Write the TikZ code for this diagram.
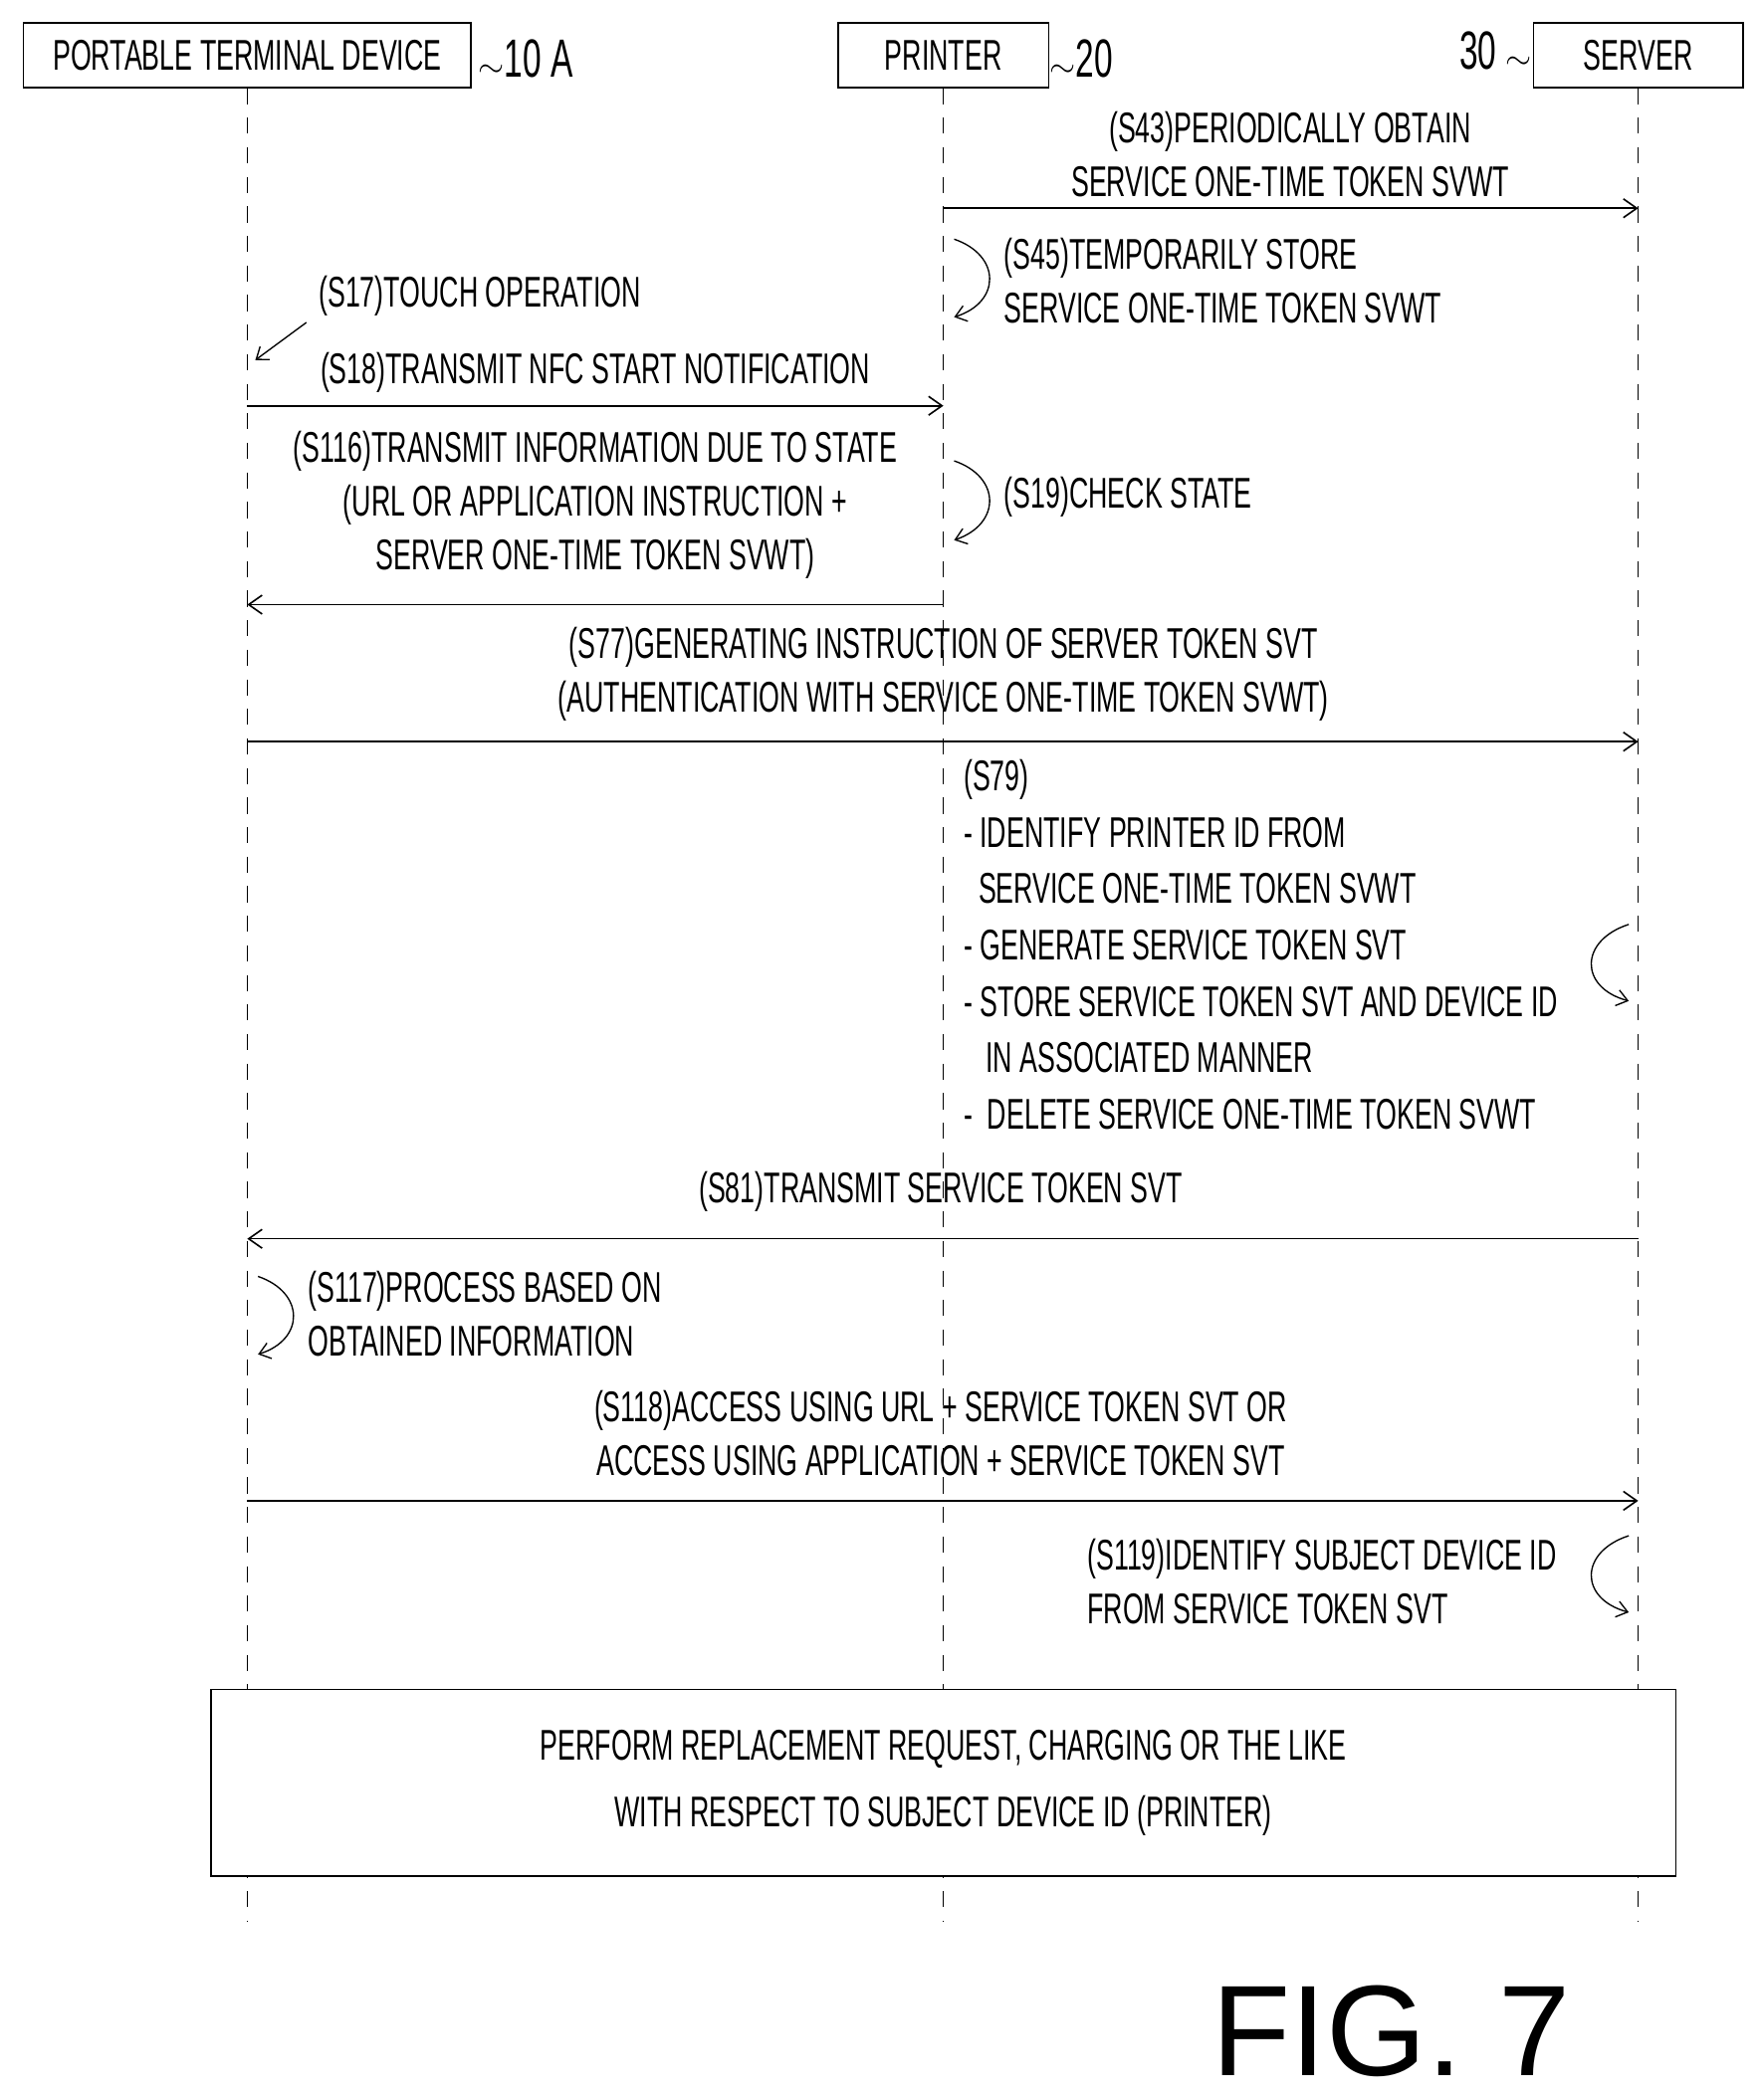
\documentclass[tikz,border=0pt]{standalone}
\usetikzlibrary{arrows.meta}
\usepackage{fontspec}
\setmainfont{Liberation Sans}[FakeStretch=0.62]
\begin{document}
\begin{tikzpicture}[x=1pt,y=-1pt,
 t/.style={font=\fontsize{32}{36}\selectfont,inner sep=1pt},
 hd/.style={draw,line width=1.2pt,minimum height=48pt,font=\fontsize{32}{36}\selectfont},
 life/.style={dashed,line width=1pt,dash pattern=on 12pt off 10pt},
 msg/.style={line width=1.2pt,-{Straight Barb[length=10pt,width=14pt]}},
 loop/.style={line width=1pt,-{Straight Barb[length=8pt,width=12pt]}}]
\useasboundingbox (0,0) rectangle (1310,1563);
\node[hd,minimum width=333pt] (A) at (184,41) {PORTABLE TERMINAL DEVICE};
\node[hd,minimum width=157pt] (B) at (702,41) {PRINTER};
\node[hd,minimum width=156pt] (C) at (1219,41) {SERVER};
\node[t,font=\fontsize{40}{44}\selectfont,anchor=west] (la) at (355,44) {$\sim$10 A};
\node[t,font=\fontsize{40}{44}\selectfont,anchor=west] (lb) at (780,44) {$\sim$20};
\node[t,font=\fontsize{40}{44}\selectfont,anchor=east] (lc) at (1141,38) {30 $\sim$};
\coordinate (Ae) at (184,1430); \coordinate (Be) at (702,1430); \coordinate (Ce) at (1219,1430);
\draw[life] (A.south) -- (Ae); \draw[life] (B.south) -- (Be); \draw[life] (C.south) -- (Ce);
% S43
\node[t,align=center] (s43) at (960,115) {(S43)PERIODICALLY OBTAIN\\[4pt]SERVICE ONE-TIME TOKEN SVWT};
\coordinate (p1) at (702,155); \coordinate (c1) at (1219,155);
\draw[msg] (p1) -- (c1);
% S45
\node[t,align=left,anchor=west] (s45) at (746,209) {(S45)TEMPORARILY STORE\\[4pt]SERVICE ONE-TIME TOKEN SVWT};
\coordinate (l1a) at (710,178); \coordinate (l1b) at (710,236);
\draw[loop] (l1a) .. controls (745,190) and (745,225) .. (l1b);
% S17
\node[t,anchor=west] (s17) at (236,220) {(S17)TOUCH OPERATION};
\coordinate (t1) at (228,240); \coordinate (t2) at (190,268);
\draw[loop] (t1) -- (t2);
% S18
\node[t] (s18) at (443,277) {(S18)TRANSMIT NFC START NOTIFICATION};
\coordinate (a2) at (184,302); \coordinate (b2) at (702,302);
\draw[msg] (a2) -- (b2);
% S116
\node[t,align=center] (s116) at (443,376) {(S116)TRANSMIT INFORMATION DUE TO STATE\\[4pt](URL OR APPLICATION INSTRUCTION +\\[4pt]SERVER ONE-TIME TOKEN SVWT)};
\coordinate (b3) at (702,450); \coordinate (a3) at (184,450);
\draw[msg] (b3) -- (a3);
% S19
\node[t,anchor=west] (s19) at (746,370) {(S19)CHECK STATE};
\coordinate (l2a) at (710,343); \coordinate (l2b) at (710,402);
\draw[loop] (l2a) .. controls (745,355) and (745,390) .. (l2b);
% S77
\node[t,align=center] (s77) at (702,502) {(S77)GENERATING INSTRUCTION OF SERVER TOKEN SVT\\[4pt](AUTHENTICATION WITH SERVICE ONE-TIME TOKEN SVWT)};
\coordinate (a4) at (184,552); \coordinate (c4) at (1219,552);
\draw[msg] (a4) -- (c4);
% S79
\node[t,align=left,anchor=north west] (s79) at (716,564) {(S79)\\[6pt]- IDENTIFY PRINTER ID FROM\\[6pt]\ \ SERVICE ONE-TIME TOKEN SVWT\\[6pt]- GENERATE SERVICE TOKEN SVT\\[6pt]- STORE SERVICE TOKEN SVT AND DEVICE ID\\[6pt]\ \ \ IN ASSOCIATED MANNER\\[6pt]-\ \ DELETE SERVICE ONE-TIME TOKEN SVWT};
\coordinate (l3a) at (1212,688); \coordinate (l3b) at (1212,745);
\draw[loop] (l3a) .. controls (1175,700) and (1175,735) .. (l3b);
% S81
\node[t] (s81) at (700,887) {(S81)TRANSMIT SERVICE TOKEN SVT};
\coordinate (c5) at (1219,922); \coordinate (a5) at (184,922);
\draw[msg] (c5) -- (a5);
% S117
\node[t,align=left,anchor=west] (s117) at (228,978) {(S117)PROCESS BASED ON\\[4pt]OBTAINED INFORMATION};
\coordinate (l4a) at (192,950); \coordinate (l4b) at (192,1008);
\draw[loop] (l4a) .. controls (227,962) and (227,997) .. (l4b);
% S118
\node[t,align=center] (s118) at (700,1067) {(S118)ACCESS USING URL + SERVICE TOKEN SVT OR\\[4pt]ACCESS USING APPLICATION + SERVICE TOKEN SVT};
\coordinate (a6) at (184,1117); \coordinate (c6) at (1219,1117);
\draw[msg] (a6) -- (c6);
% S119
\node[t,align=left,anchor=west] (s119) at (808,1177) {(S119)IDENTIFY SUBJECT DEVICE ID\\[4pt]FROM SERVICE TOKEN SVT};
\coordinate (l5a) at (1212,1143); \coordinate (l5b) at (1212,1200);
\draw[loop] (l5a) .. controls (1175,1155) and (1175,1190) .. (l5b);
% box
\node[draw,fill=white,line width=1.2pt,minimum width=1090pt,minimum height=139pt,align=center,font=\fontsize{32}{36}\selectfont] (box) at (702,1327) {PERFORM REPLACEMENT REQUEST, CHARGING OR THE LIKE\\[14pt]WITH RESPECT TO SUBJECT DEVICE ID (PRINTER)};
\node[font=\fontsize{96}{100}\selectfont\addfontfeature{FakeStretch=1}] (fig) at (1035,1512) {FIG. 7};
\end{tikzpicture}
\end{document}
